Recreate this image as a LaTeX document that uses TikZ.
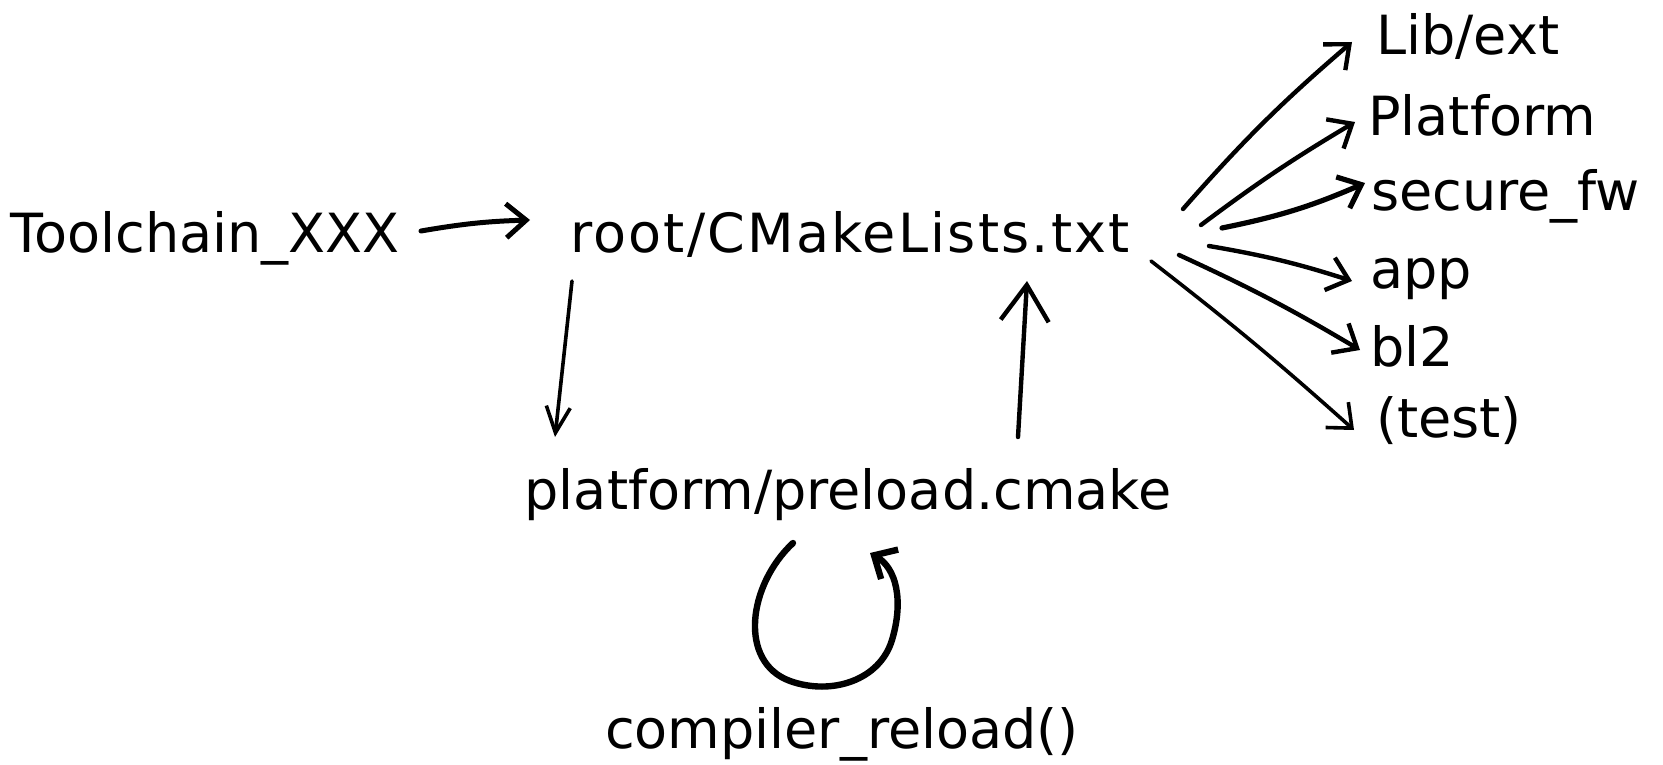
\documentclass[tikz,border=0pt]{standalone}
\usepackage{fontspec}
\setmainfont{DejaVu Sans}
\usetikzlibrary{arrows.meta,calc}
\begin{document}
\begin{tikzpicture}[x=1pt,y=-1pt,
  lbl/.style={inner sep=0pt,font=\fontsize{54}{60}\selectfont},
  arr/.style={line width=4.4pt,line cap=round,line join=round,-{Straight Barb[length=20pt,width=34pt]}},
  bigarr/.style={arr,-{Straight Barb[length=36pt,width=48pt]}},
  thinarr/.style={arr,line width=3.6pt,-{Straight Barb[length=26pt,width=24pt]}}]
\useasboundingbox (0,0) rectangle (1663,765);
\node[lbl,anchor=base] (tool) at (205,252) {Toolchain\_XXX};
\node[lbl,anchor=base] (root) at (850,252) {\addfontfeatures{LetterSpace=4}root/CMakeLists.txt};
\node[lbl,anchor=base] (plat) at (848,509) {platform/preload.cmake};
\node[lbl,anchor=base] (comp) at (842,748) {compiler\_reload()};
\node[lbl,anchor=base west] (lib) at (1376,55) {Lib/ext};
\node[lbl,anchor=base west] (pf) at (1368,136) {Platform};
\node[lbl,anchor=base west] (sec) at (1371,210) {secure\_fw};
\node[lbl,anchor=base west] (app) at (1370,288) {app};
\node[lbl,anchor=base west] (bl) at (1370,366) {bl2};
\node[lbl,anchor=base west] (test) at (1376,437) {(test)};
% main flow
\draw[arr,line width=5pt] ($(tool.base)+(216,-21)$) to[bend left=4] ($(root.base)+(-320,-32)$);
\draw[thinarr] ($(root.base)+(-278,29)$) -- ($(plat.base)+(-293,-72)$);
\draw[bigarr] ($(plat.base)+(170,-72)$) -- ($(root.base)+(177,29)$);
% fan
\draw[arr] ($(root.base)+(333,-43)$) to[bend left=4] ($(lib.base west)+(-24,-13)$);
\draw[arr] ($(root.base)+(351,-27)$) to[bend left=3] ($(pf.base west)+(-13,-14)$);
\draw[arr,line width=5.2pt] ($(root.base)+(372,-24)$) to[bend right=6] ($(sec.base west)+(-6,-27)$);
\draw[arr] ($(root.base)+(359,-6)$) to[bend left=4] ($(app.base west)+(-18,-7)$);
\draw[arr] ($(root.base)+(329,3)$) to[bend left=3] ($(bl.base west)+(-10,-16)$);
\draw[arr,line width=3.6pt] ($(root.base)+(301,9)$) to[bend left=2] ($(test.base west)+(-22,-7)$);
% loop
\coordinate (ls) at ($(plat.base)+(-55,34)$);
\coordinate (le) at ($(plat.base)+(22,44)$);
\draw[line width=6.4pt,line cap=round,-{Straight Barb[length=18pt,width=34pt]}]
  (ls) .. controls (748,585) and (738,662) .. (790,681)
       .. controls (832,696) and (880,680) .. (892,640)
       .. controls (904,600) and (896,568) .. (le);
\end{tikzpicture}
\end{document}
